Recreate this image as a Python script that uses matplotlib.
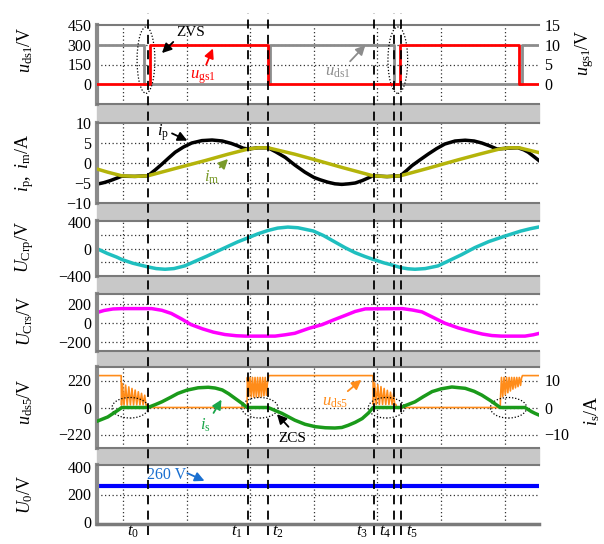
import matplotlib.pyplot as plt
from matplotlib.patches import Ellipse, Rectangle

plt.rcParams['font.family'] = ['Liberation Serif', 'DejaVu Serif']
plt.rcParams['mathtext.fontset'] = 'custom'
plt.rcParams['mathtext.rm'] = 'Liberation Serif'
plt.rcParams['mathtext.it'] = 'Liberation Serif:italic'

W, H = 604, 544

# time axis in scope divisions
t_min, t_max = -0.41, 6.54
t_marks = [0.39, 1.97, 2.28, 3.95, 4.26, 4.37]
t_names = [r'$t_0$', r'$t_1$', r'$t_2$', r'$t_3$', r'$t_4$', r'$t_5$']

# panel 1: u_ds1 (V) and u_gs1 (V), step edges
uds1_t = [-0.41, 0.33, 2.31, 4.26, 6.27, 6.54]
uds1_v = [300, 0, 300, 0, 300, 300]
ugs1_t = [-0.41, 0.42, 2.28, 4.36, 6.23, 6.54]
ugs1_v = [0, 10, 0, 10, 0, 0]

# panel 2: i_p and i_m (A)
ip_t = [-0.41, -0.30, -0.20, -0.10, -0.02, 0.18, 0.39, 0.50, 0.61, 0.72, 0.82, 0.95,
        1.08, 1.24, 1.40, 1.56, 1.70, 1.80, 1.89, 1.97, 2.12, 2.28, 2.40, 2.55, 2.70,
        2.86, 3.00, 3.10, 3.22, 3.33, 3.44, 3.55, 3.65, 3.76, 3.86, 3.93, 4.15, 4.36,
        4.45, 4.54, 4.67, 4.80, 4.93, 5.06, 5.22, 5.38, 5.52, 5.64, 5.76, 5.88, 6.05,
        6.21, 6.30, 6.37, 6.46, 6.54]
ip_v = [-5.3, -4.9, -4.4, -3.8, -3.3, -3.35, -3.2, -1.8, -0.3, 1.3, 2.7, 4.0,
        5.0, 5.6, 5.75, 5.5, 4.9, 4.3, 3.7, 3.5, 3.8, 3.8, 2.8, 1.4, -0.5,
        -2.3, -3.6, -4.2, -4.8, -5.2, -5.35, -5.2, -5.0, -4.4, -3.7, -3.2, -3.4, -3.2,
        -2.0, -0.7, 0.8, 2.25, 3.6, 4.75, 5.5, 5.7, 5.5, 5.0, 4.3, 3.5, 3.7,
        3.8, 3.3, 2.7, 1.6, 0.6]
im_t = [-0.41, -0.24, -0.02, 0.20, 0.39, 0.86, 1.29, 1.65, 1.97, 2.12, 2.28, 2.70,
        3.02, 3.44, 3.93, 4.15, 4.36, 4.80, 5.27, 5.60, 5.92, 6.08, 6.23, 6.54]
im_v = [-1.5, -2.3, -3.2, -3.35, -3.2, -1.2, 0.6, 2.2, 3.5, 3.8, 3.8, 2.2,
        0.8, -1.1, -3.2, -3.4, -3.2, -1.3, 0.8, 2.2, 3.5, 3.8, 3.8, 2.6]

# panel 3: U_Crp (V)
ucrp_t = [-0.41, -0.25, -0.10, -0.02, 0.15, 0.39, 0.52, 0.66, 0.80, 0.97, 1.15, 1.32,
          1.49, 1.65, 1.80, 1.97, 2.12, 2.28, 2.43, 2.59, 2.75, 2.99, 3.15, 3.32, 3.49,
          3.65, 3.80, 3.93, 4.10, 4.25, 4.37, 4.48, 4.59, 4.75, 4.95, 5.12, 5.32, 5.53,
          5.75, 6.01, 6.25, 6.40, 6.53]
ucrp_v = [0, -70, -125, -160, -215, -270, -295, -305, -295, -255, -180, -110,
          -35, 35, 100, 163, 220, 270, 305, 320, 310, 262, 195, 105, 15,
          -60, -115, -158, -210, -247, -282, -298, -305, -295, -256, -180, -90, 15,
          105, 188, 260, 295, 320]

# panel 4: U_Crs (V)
ucrs_t = [-0.41, -0.30, -0.16, -0.02, 0.45, 0.61, 0.76, 0.92, 1.07, 1.25, 1.42, 1.60,
          1.78, 1.92, 2.39, 2.55, 2.70, 2.92, 3.13, 3.31, 3.49, 3.65, 3.81, 4.39, 4.55,
          4.70, 4.88, 5.06, 5.27, 5.49, 5.65, 5.80, 5.95, 6.32, 6.45, 6.53]
ucrs_v = [108, 130, 146, 150, 150, 132, 98, 40, -20, -65, -100, -125,
          -138, -142, -142, -128, -112, -60, -20, 30, 77, 120, 147, 150, 135,
          115, 55, -5, -55, -94, -120, -136, -142, -142, -128, -115]

# panel 5: u_ds5 (V) with ringing, i_s (A)
uds5_t = [-0.41, -0.03, -0.025, -0.01, 0.015, 0.04, 0.065, 0.09, 0.115, 0.14, 0.165,
          0.19, 0.215, 0.24, 0.265, 0.29, 0.315, 0.34, 0.36, 0.375, 0.38,
          1.95, 1.955, 1.975, 1.995, 2.015, 2.035, 2.055, 2.075, 2.095, 2.115, 2.135,
          2.155, 2.175, 2.195, 2.215, 2.235, 2.255, 2.27, 2.29,
          3.93, 3.935, 3.955, 3.98, 4.005, 4.03, 4.055, 4.08, 4.105, 4.13, 4.155,
          4.18, 4.205, 4.23, 4.255, 4.27, 4.29, 4.30,
          5.93, 5.935, 5.95, 5.97, 5.99, 6.01, 6.03, 6.05, 6.07, 6.09, 6.11, 6.13,
          6.15, 6.17, 6.19, 6.21, 6.23, 6.25, 6.265, 6.28, 6.54]
uds5_v = [260, 260, 20, 195, 20, 182, 20, 168, 22, 155, 22,
          142, 22, 128, 22, 115, 22, 100, 20, 20, 0,
          0, 245, 90, 245, 85, 245, 85, 245, 85, 245, 85,
          245, 90, 245, 95, 245, 100, 200, 260,
          260, 25, 200, 25, 185, 25, 170, 25, 155, 25, 140,
          25, 125, 25, 115, 25, 25, 0,
          0, 80, 245, 90, 245, 105, 245, 120, 245, 135, 245, 150,
          245, 160, 245, 170, 245, 180, 240, 260, 260]
is_t = [-0.41, -0.24, -0.08, -0.02, 0.39, 0.50, 0.61, 0.75, 0.86, 1.00, 1.18, 1.34,
        1.45, 1.56, 1.66, 1.76, 1.86, 1.95, 2.28, 2.50, 2.70, 2.86, 3.02, 3.18, 3.33,
        3.44, 3.54, 3.65, 3.76, 3.86, 3.93, 4.36, 4.47, 4.59, 4.72, 4.86, 5.00, 5.17,
        5.38, 5.52, 5.64, 5.78, 5.93, 6.32, 6.42, 6.48, 6.54]
is_v = [-5.1, -3.5, -1.0, 0, 0, 1.0, 2.1, 3.8, 5.2, 6.4, 7.3, 7.5,
        7.2, 6.5, 5.1, 3.4, 1.7, 0, 0, -2.2, -4.7, -6.2, -7.1, -7.5, -7.6,
        -7.4, -6.6, -5.5, -4.1, -2.0, 0, 0, 1.0, 2.1, 4.0, 5.9, 6.9, 7.6,
        7.1, 6.0, 4.6, 2.5, 0, 0, -1.5, -2.2, -2.8]

# panel 6: U_0 (V)
u0_t = [t_min, t_max]
u0_v = [260, 260]

fig = plt.figure(figsize=(W / 100, H / 100), dpi=100)

panel_px = [(25, 104), (123, 203), (221, 276), (294, 351), (367, 448), (465, 524)]
x0, x1 = 97, 539


def add_panel(top, bottom, hgrid):
    ax = fig.add_axes([x0 / W, 1 - bottom / H, (x1 - x0) / W, (bottom - top) / H])
    ax.set_xlim(t_min, t_max)
    ax.set_xticks([])
    ax.tick_params(axis='y', length=0, labelsize=11.5, pad=4)
    for s in ['top', 'bottom']:
        ax.spines[s].set_color('#7a7a7a')
        ax.spines[s].set_linewidth(1.5)
    ax.spines['left'].set_color('#8a8a8a')
    ax.spines['left'].set_linewidth(3)
    ax.spines['right'].set_visible(False)
    for g in range(7):
        ax.axvline(g, color='#333333', lw=0.9, ls=(0, (1, 2)), zorder=1)
    for g in hgrid:
        ax.axhline(g, color='#333333', lw=0.9, ls=(0, (1, 2)), zorder=1)
    return ax


def twin(ax, lim, ticks):
    axr = ax.twinx()
    axr.set_ylim(*lim)
    axr.set_yticks(ticks)
    axr.tick_params(axis='y', length=0, labelsize=11.5, pad=4)
    for s in axr.spines.values():
        s.set_visible(False)
    return axr


# gray bands between panels
for (a, b), (c, d) in zip(panel_px[:-1], panel_px[1:]):
    fig.add_artist(Rectangle((x0 / W, 1 - c / H), (x1 - x0) / W, (c - b) / H,
                             transform=fig.transFigure, color='#c8c8c8', zorder=0))

# panel 1
ax1 = add_panel(*panel_px[0], [150, 300])
ax1.set_ylim(-150, 450)
ax1.set_yticks([0, 150, 300, 450])
ax1.step(uds1_t, uds1_v, where='post', color='#8c8c8c', lw=2)
ax1r = twin(ax1, (-5, 15), [0, 5, 10, 15])
ax1r.step(ugs1_t, ugs1_v, where='post', color='#ff0000', lw=2)
ax1r.add_patch(Ellipse((0.36, 6.1), 0.28, 16.8, fill=False, ec='k', lw=0.9, ls=(0, (1, 1.5))))
ax1r.add_patch(Ellipse((4.32, 6.1), 0.31, 16.8, fill=False, ec='k', lw=0.9, ls=(0, (1, 1.5))))
ax1r.text(1.07, 13.0, 'ZVS', fontsize=11, ha='center', va='center')
ax1r.annotate('', xy=(0.58, 7.4), xytext=(0.82, 11.2),
              arrowprops=dict(arrowstyle='-|>', color='k', lw=1.3, mutation_scale=14))
ax1r.text(1.26, 1.8, r'$u_{\mathrm{gs1}}$', fontsize=12, color='#ff0000', ha='center', va='center')
ax1r.annotate('', xy=(1.43, 9.7), xytext=(1.29, 4.3),
              arrowprops=dict(arrowstyle='-|>', color='#ff0000', lw=1.3, mutation_scale=14))
ax1r.text(3.38, 3.1, r'$u_{\mathrm{ds1}}$', fontsize=12, color='#8c8c8c', ha='center', va='center')
ax1r.annotate('', xy=(3.84, 10.4), xytext=(3.54, 5.3),
              arrowprops=dict(arrowstyle='-|>', color='#8c8c8c', lw=1.3, mutation_scale=14))

# panel 2
ax2 = add_panel(*panel_px[1], [-5, 0, 5])
ax2.set_ylim(-10, 10)
ax2.set_yticks([-10, -5, 0, 5, 10])
ax2.plot(im_t, im_v, color='#b4b40a', lw=2.5, zorder=3)
ax2.plot(ip_t, ip_v, color='black', lw=2.5, zorder=2)
ax2.text(0.63, 7.5, r'$i_{\mathrm{p}}$', fontsize=12, ha='center', va='center')
ax2.annotate('', xy=(1.05, 5.3), xytext=(0.73, 7.7),
             arrowprops=dict(arrowstyle='-|>', color='k', lw=1.3, mutation_scale=14))
ax2.text(1.40, -3.6, r'$i_{\mathrm{m}}$', fontsize=12, color='#7a9a2a', ha='center', va='center')
ax2.annotate('', xy=(1.68, 1.5), xytext=(1.49, -1.6),
             arrowprops=dict(arrowstyle='-|>', color='#7a9a2a', lw=1.3, mutation_scale=14))

# panel 3
ax3 = add_panel(*panel_px[2], [-200, 0, 200])
ax3.set_ylim(-405, 410)
ax3.set_yticks([-400, 0, 400])
ax3.plot(ucrp_t, ucrp_v, color='#1fbfbf', lw=2.5)

# panel 4
ax4 = add_panel(*panel_px[3], [-200, 0, 200])
ax4.set_ylim(-300, 305)
ax4.set_yticks([-200, 0, 200])
ax4.plot(ucrs_t, ucrs_v, color='#ff00ff', lw=2.5)

# panel 5
ax5 = add_panel(*panel_px[4], [-220, 0, 220])
ax5.set_ylim(-330, 330)
ax5.set_yticks([-220, 0, 220])
ax5.plot(uds5_t, uds5_v, color='#ff8c1a', lw=1.2)
ax5r = twin(ax5, (-15, 15), [-10, 0, 10])
ax5r.plot(is_t, is_v, color='#1a9a1a', lw=2.5)
for cx in [0.11, 2.15, 4.14, 6.06]:
    ax5r.add_patch(Ellipse((cx, -0.1), 0.57, 7.6, fill=False, ec='k', lw=0.9, ls=(0, (1, 1.5))))
ax5r.text(1.29, -6.5, r'$i_{\mathrm{s}}$', fontsize=12, color='#1aa64a', ha='center', va='center')
ax5r.annotate('', xy=(1.57, 3.8), xytext=(1.40, -2.9),
              arrowprops=dict(arrowstyle='-|>', color='#1aa64a', lw=1.3, mutation_scale=14))
ax5r.text(2.66, -11.4, 'ZCS', fontsize=11, ha='center', va='center')
ax5r.annotate('', xy=(2.39, -1.7), xytext=(2.63, -7.9),
              arrowprops=dict(arrowstyle='-|>', color='k', lw=1.3, mutation_scale=14))
ax5r.text(3.33, 2.0, r'$u_{\mathrm{ds5}}$', fontsize=12, color='#ff8c1a', ha='center', va='center')
ax5r.annotate('', xy=(3.78, 10.9), xytext=(3.50, 5.4),
              arrowprops=dict(arrowstyle='-|>', color='#ff8c1a', lw=1.3, mutation_scale=14))

# panel 6
ax6 = add_panel(*panel_px[5], [200])
ax6.set_ylim(-15, 415)
ax6.set_yticks([0, 200, 400])
ax6.spines['bottom'].set_linewidth(2.5)
ax6.plot(u0_t, u0_v, color='#0000ff', lw=3)
ax6.text(0.68, 342, '260 V', fontsize=11.5, color='#1a6fd0', ha='center', va='center')
ax6.annotate('', xy=(1.32, 291), xytext=(0.97, 364),
             arrowprops=dict(arrowstyle='-|>', color='#1a6fd0', lw=1.3, mutation_scale=14))

# axis labels
left_labels = [r'$u_{\mathrm{ds1}}/\mathrm{V}$', r'$i_{\mathrm{p}},\ i_{\mathrm{m}}/\mathrm{A}$',
               r'$U_{\mathrm{Crp}}/\mathrm{V}$', r'$U_{\mathrm{Crs}}/\mathrm{V}$',
               r'$u_{\mathrm{ds5}}/\mathrm{V}$', r'$U_{0}/\mathrm{V}$']
left_y = [50, 163, 247, 321, 402, 494]
for lab, y in zip(left_labels, left_y):
    fig.text(25 / W, 1 - y / H, lab, rotation=90, ha='center', va='center', fontsize=13)
fig.text(585 / W, 1 - 53 / H, r'$u_{\mathrm{gs1}}/\mathrm{V}$', rotation=90, ha='center', va='center', fontsize=13)
fig.text(592 / W, 1 - 411 / H, r'$i_{\mathrm{s}}/\mathrm{A}$', rotation=90, ha='center', va='center', fontsize=13)

# dashed time markers over all panels
ov = fig.add_axes([x0 / W, 1 - 535 / H, (x1 - x0) / W, (535 - 13) / H])
ov.set_xlim(t_min, t_max)
ov.set_ylim(0, 1)
ov.axis('off')
for t in t_marks:
    ov.axvline(t, color='black', lw=1.3, dashes=(5, 3.5))
label_shift = [-0.24, -0.18, 0.15, -0.19, -0.14, 0.17]
for t, name, dx in zip(t_marks, t_names, label_shift):
    ov.text(t + dx, 0.006, name, transform=ov.get_xaxis_transform(), ha='center', va='center',
            fontsize=12, clip_on=False)

fig.savefig('out.png', dpi=100)
